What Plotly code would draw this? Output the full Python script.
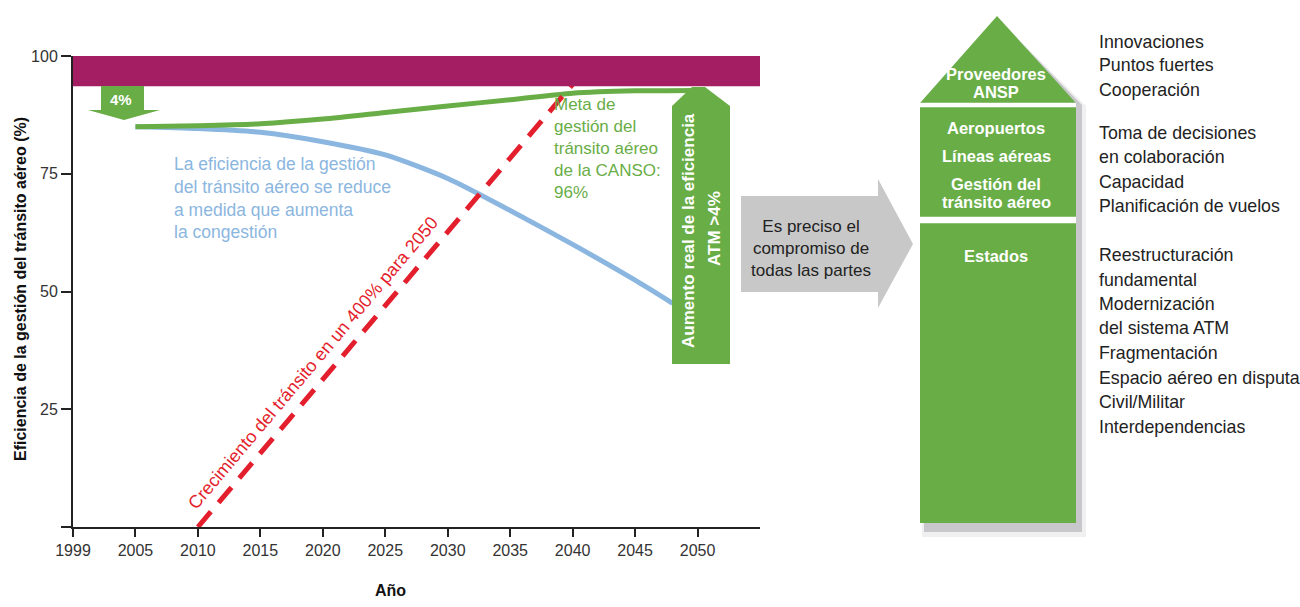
import plotly.graph_objects as go

# ---------------- data ----------------
years_green = [2005, 2010, 2015, 2020, 2025, 2030, 2035, 2040, 2045, 2050]
eff_green = [85.0, 85.2, 85.6, 86.6, 88.0, 89.4, 90.7, 92.1, 92.6, 92.7]

years_blue = [2005, 2010, 2015, 2020, 2025, 2030, 2035, 2040, 2045, 2048]
eff_blue = [85.0, 84.6, 83.8, 81.8, 79.0, 74.0, 67.2, 60.0, 52.4, 47.5]

years_red = [2010, 2040]
traffic_red = [0, 94]

tick_years = [2000, 2005, 2010, 2015, 2020, 2025, 2030, 2035, 2040, 2045, 2050]
tick_labels = ["1999", "2005", "2010", "2015", "2020", "2025", "2030", "2035", "2040", "2045", "2050"]
y_ticks = [0, 25, 50, 75, 100]
y_labels = ["", "25", "50", "75", "100"]
target_band = [93.6, 100]

blue_text = "La eficiencia de la gestión<br>del tránsito aéreo se reduce<br>a medida que aumenta<br>la congestión"
green_text = "Meta de<br>gestión del<br>tránsito aéreo<br>de la CANSO:<br>96%"
red_text = "Crecimiento del tránsito en un 400% para 2050"
gray_text = "Es preciso el<br>compromiso de<br>todas las partes"

column_labels = ["Proveedores", "ANSP", "Aeropuertos", "Líneas aéreas", "Gestión del", "tránsito aéreo", "Estados"]
right_lines = ["Innovaciones", "Puntos fuertes", "Cooperación",
               "Toma de decisiones", "en colaboración", "Capacidad", "Planificación de vuelos",
               "Reestructuración", "fundamental", "Modernización", "del sistema ATM",
               "Fragmentación", "Espacio aéreo en disputa", "Civil/Militar", "Interdependencias"]

# ---------------- styles / layout helpers ----------------
GREEN = "#69AD47"
BLUE = "#8BB6E0"
RED = "#E41F2D"
MAGENTA = "#A41E63"
GRAY = "#C8C8C8"
FONT = "Liberation Sans, Arial, sans-serif"

PL, PR, PT, PB = 73, 760, 56, 527
W, H = 1300, 607


def fx(x):
    return (x - PL) / (PR - PL)


def fy(y):
    return (PB - y) / (PB - PT)


def path(points):
    return "M " + " L ".join(f"{fx(x):.5f},{fy(y):.5f}" for x, y in points) + " Z"


fig = go.Figure()

fig.add_trace(go.Scatter(x=years_blue, y=eff_blue, mode="lines",
                         line=dict(color=BLUE, width=5, shape="spline", smoothing=0.7),
                         hoverinfo="skip", showlegend=False))
fig.add_trace(go.Scatter(x=years_green, y=eff_green, mode="lines",
                         line=dict(color=GREEN, width=5, shape="spline", smoothing=0.7),
                         hoverinfo="skip", showlegend=False))
fig.add_trace(go.Scatter(x=years_red, y=traffic_red, mode="lines",
                         line=dict(color=RED, width=5, dash="20px,12px"),
                         hoverinfo="skip", showlegend=False))

shapes = []
# target band
shapes.append(dict(type="rect", xref="x", yref="y", x0=2000, x1=2055,
                   y0=target_band[0], y1=target_band[1],
                   fillcolor=MAGENTA, line=dict(width=0), layer="above"))
# 4% arrow
shapes.append(dict(type="path", xref="paper", yref="paper",
                   path=path([(101, 86), (144, 86), (144, 110), (160, 110), (124, 120), (88, 110), (101, 110)]),
                   fillcolor=GREEN, line=dict(width=0)))
# ATM arrow
shapes.append(dict(type="path", xref="paper", yref="paper",
                   path=path([(672, 364), (672, 106), (692, 87), (705, 87), (730, 106), (730, 364)]),
                   fillcolor=GREEN, line=dict(width=0)))
# gray arrow
shapes.append(dict(type="path", xref="paper", yref="paper",
                   path=path([(741, 196), (878, 196), (878, 179), (913, 244), (878, 308), (878, 292), (741, 292)]),
                   fillcolor=GRAY, line=dict(width=0)))
# column shadow (soft)
shapes.append(dict(type="path", xref="paper", yref="paper",
                   path=path([(922, 537), (922, 106), (999, 20), (1086, 106), (1086, 537)]),
                   fillcolor="rgba(110,110,120,0.10)", line=dict(width=0)))
shapes.append(dict(type="path", xref="paper", yref="paper",
                   path=path([(924, 532), (924, 105), (998, 19), (1082, 105), (1082, 532)]),
                   fillcolor="rgba(110,110,120,0.30)", line=dict(width=0)))
# column
shapes.append(dict(type="path", xref="paper", yref="paper",
                   path=path([(920, 523), (920, 103), (997, 16), (1076, 103), (1076, 523)]),
                   fillcolor=GREEN, line=dict(width=0)))
# white separators
for y0, y1 in [(102.7, 107.3), (216.7, 223.3)]:
    shapes.append(dict(type="rect", xref="paper", yref="paper",
                       x0=fx(920), x1=fx(1076), y0=fy(y1), y1=fy(y0),
                       fillcolor="white", line=dict(width=0)))

ann = []


def add_text(text, x, y, size=17, color="#222", bold=False, xanchor="left", yanchor="middle",
             align="left", angle=0):
    t = f"<b>{text}</b>" if bold else text
    ann.append(dict(text=t, x=fx(x), y=fy(y), xref="paper", yref="paper", showarrow=False,
                    xanchor=xanchor, yanchor=yanchor, align=align, textangle=angle,
                    font=dict(family=FONT, size=size, color=color)))


add_text(blue_text, 172, 198, size=17.5, color=BLUE)
add_text(green_text, 552, 148, color=GREEN)
add_text(red_text, 313, 363, size=18, color=RED, xanchor="center", align="center", angle=-49.8)
add_text("4%", 121, 99, size=15, color="white", bold=True, xanchor="center")
add_text("Aumento real de la eficiencia", 688, 231, size=17, color="white", bold=True,
         xanchor="center", angle=-90)
add_text("ATM &gt;4%", 714, 229, size=17, color="white", bold=True, xanchor="center", angle=-90)
add_text(gray_text, 811, 248, size=17, color="#222", xanchor="center", align="center")

col_y = [74, 92, 128, 156, 184, 202, 256]
for lab, yy in zip(column_labels, col_y):
    add_text(lab, 996, yy, size=16.5, color="white", bold=True, xanchor="center", align="center")

right_y = [42, 65, 90, 133, 157, 182, 206, 255, 280, 304, 328, 353, 378, 402, 427]
for lab, yy in zip(right_lines, right_y):
    add_text(lab, 1097, yy, size=17.8, color="#222")

add_text("Eficiencia de la gestión del tránsito aéreo (%)", 20, 289, size=16, color="#111",
         bold=True, xanchor="center", angle=-90)
add_text("Año", 390, 590, size=16, color="#111", bold=True, xanchor="center")

fig.update_layout(
    width=W, height=H,
    margin=dict(l=PL, r=W - PR, t=PT, b=H - PB),
    paper_bgcolor="white", plot_bgcolor="white",
    shapes=shapes, annotations=ann,
    font=dict(family=FONT, size=16, color="#333"),
    xaxis=dict(range=[2000, 2055], tickvals=tick_years, ticktext=tick_labels,
               showgrid=False, zeroline=False, showline=True, linecolor="#222", linewidth=2,
               ticks="outside", ticklen=8, tickwidth=2, tickcolor="#222",
               tickfont=dict(family=FONT, size=16, color="#333"), fixedrange=True),
    yaxis=dict(range=[0, 100], tickvals=y_ticks, ticktext=y_labels,
               showgrid=False, zeroline=False, showline=True, linecolor="#222", linewidth=2,
               ticks="outside", ticklen=10, tickwidth=2, tickcolor="#222",
               tickfont=dict(family=FONT, size=16, color="#333"), fixedrange=True),
    showlegend=False,
)

fig.write_html("out.html")
